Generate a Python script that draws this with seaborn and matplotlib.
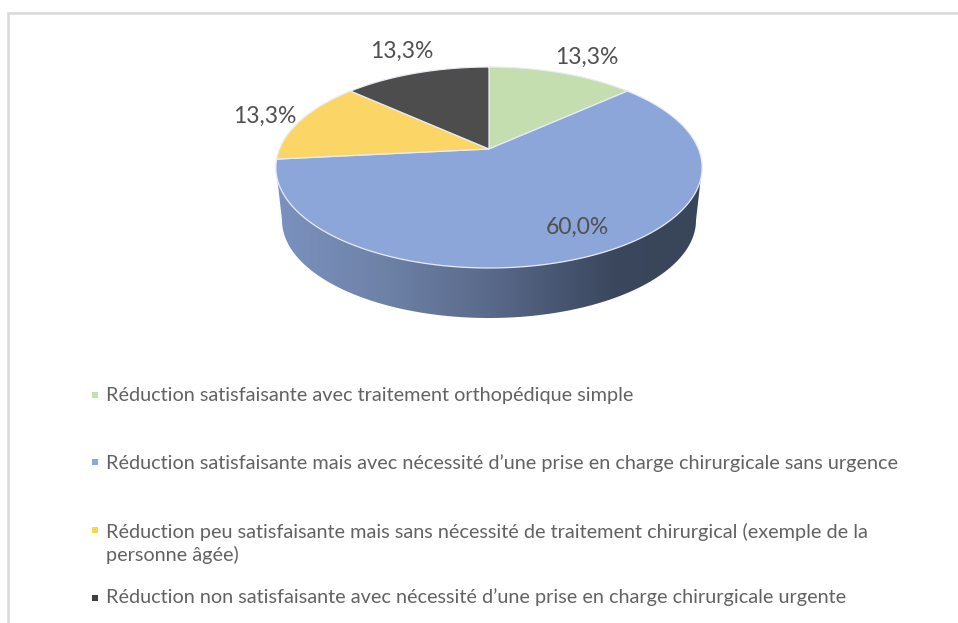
import numpy as np
import matplotlib
matplotlib.use("Agg")
import matplotlib.pyplot as plt
from matplotlib.colors import LinearSegmentedColormap
from matplotlib.patches import Polygon
import seaborn as sns

categories = [
    "Réduction satisfaisante avec traitement orthopédique simple",
    "Réduction satisfaisante mais avec nécessité d’une prise en charge chirurgicale sans urgence",
    "Réduction peu satisfaisante mais sans nécessité de traitement chirurgical (exemple de la\npersonne âgée)",
    "Réduction non satisfaisante avec nécessité d’une prise en charge chirurgicale urgente",
]
values = [13.3, 60.0, 13.3, 13.3]
colors = ["#C4DEB0", "#8CA6D9", "#FBD666", "#4D4D4D"]
legend_colors = ["#C6DFB2", "#8EA8DA", "#FFD24F", "#404040"]
label_xy = [(587, 57), (577, 227), (265, 116), (402, 51)]
legend_y = [395, 463, 543, 597]
marker_y = [395, 462, 530, 598]

sns.set_theme(style="white")
plt.rcParams["font.family"] = ["Lato", "DejaVu Sans"]
palette = sns.color_palette(colors)

fig = plt.figure(figsize=(9.58, 6.23), dpi=100, facecolor="white")
ax = fig.add_axes([0, 0, 1, 1])
ax.set_axis_off()

CX, CY, A, B, K = 489.0, 149.0, 209.5, 97.1, 0.184


def project(t, r=1.0):
    """Perspective projection of a point of the tilted disc; t clockwise from top."""
    X, Y = r * np.sin(t), r * np.cos(t)
    d = 1 + K * Y
    return CX + A * X / d, CY - B * Y / d


# Side of the disc, shaded from left to right
t_ell = np.linspace(0, np.pi, 300)
bx = CX - 207 * np.cos(t_ell)
by = 220.3 + 97.7 * np.sin(t_ell)
side = np.column_stack([np.r_[CX - 213, bx, CX + 213], np.r_[167.5, by, 167.5]])
side_cmap = LinearSegmentedColormap.from_list(
    "side",
    [(0.0, "#7B92BF"), (0.25, "#6E82A8"), (0.5, "#5A6A8A"), (0.68, "#465470"),
     (0.8, "#3A475C"), (1.0, "#394659")],
)
grad = np.linspace(0, 1, 512).reshape(1, -1)
im = ax.imshow(grad, cmap=side_cmap, extent=(CX - 213, CX + 213, 330, 160), aspect="auto", zorder=1)
clip = Polygon(side, closed=True, transform=ax.transData, fc="none", ec="none")
ax.add_patch(clip)
im.set_clip_path(clip)

# Top face wedges
fr = np.cumsum([0] + values) / sum(values)
for i, c in enumerate(palette):
    t = np.linspace(fr[i], fr[i + 1], 200) * 2 * np.pi
    x, y = project(t)
    ax.fill(np.r_[CX, x], np.r_[CY, y], facecolor=c, edgecolor="#E8ECF4", linewidth=0.9, zorder=2)

# Data labels
for v, (lx, ly) in zip(values, label_xy):
    ax.text(lx, ly, f"{v:.1f}%".replace(".", ","), ha="center", va="center",
            fontsize=16.5, color="#505050", zorder=3)

# Legend
for name, c, ty, my in zip(categories, legend_colors, legend_y, marker_y):
    ax.scatter([95], [my], marker="s", s=23, color=c, linewidths=0, zorder=3)
    ax.text(106, ty, name, ha="left", va="center", fontsize=14.3, color="#626262",
            linespacing=1.33, zorder=3)

# Frame lines of the original capture
ax.plot([8, 8, 958], [623, 13, 13], color="#D9D9D9", linewidth=1.8, solid_joinstyle="miter", zorder=0)

ax.set_xlim(0, 958)
ax.set_ylim(623, 0)
fig.savefig("out.png", dpi=100)
